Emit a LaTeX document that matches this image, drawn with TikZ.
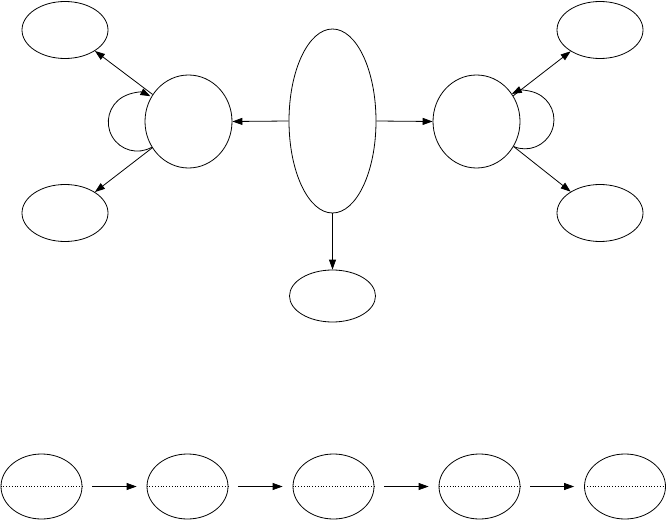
\documentclass[tikz,border=0pt]{standalone}
\usetikzlibrary{shapes.geometric,arrows.meta}
\begin{document}
\begin{tikzpicture}[x=1pt,y=1pt,
  ell/.style={draw,ellipse,inner sep=0pt,line width=0.8pt},
  small/.style={ell,minimum width=86pt,minimum height=57pt},
  big/.style={ell,minimum width=87pt,minimum height=93pt},
  row/.style={ell,minimum width=81pt,minimum height=65pt},
  arr/.style={line width=0.8pt,-{Triangle[length=10pt,width=7pt]}}]
\useasboundingbox (0,0) rectangle (666,520);
\node[small] (tl) at (65,490) {};
\node[small] (bl) at (65,307) {};
\node[big] (c1) at (188.5,398.5) {};
\node[ell,minimum width=87pt,minimum height=184pt] (cen) at (332.5,399) {};
\node[ell,minimum width=86pt,minimum height=52pt] (bm) at (332.5,224) {};
\node[big] (c2) at (476.5,398.5) {};
\node[small] (tr) at (600,490) {};
\node[small] (br) at (600,307) {};
\draw[arr] (cen.west) -- (c1.east);
\draw[arr] (cen.east) -- (c2.west);
\draw[arr] (cen.south) -- (bm.north);
\draw[arr] (c1.143) -- (tl.-35);
\draw[arr] (c1.216) -- (bl.35);
\draw[arr] (c2.35) -- (tr.216);
\draw[arr] (c2.-34) -- (br.144);
\draw[arr] (c1.215) arc[start angle=-60, end angle=-297, radius=29];
\draw[arr] (c2.-34) arc[start angle=-113, end angle=117, radius=29];
\foreach \i/\x in {1/41.5,2/187.5,3/333.5,4/479.5,5/625} {
  \node[row] (b\i) at (\x,33.5) {};
  \draw[dotted,line width=0.8pt] (b\i.west) -- (b\i.east);
}
\foreach \i/\j in {1/2,2/3,3/4,4/5}
  \draw[arr,shorten <=10pt,shorten >=10pt] (b\i.east) -- (b\j.west);
\end{tikzpicture}
\end{document}
